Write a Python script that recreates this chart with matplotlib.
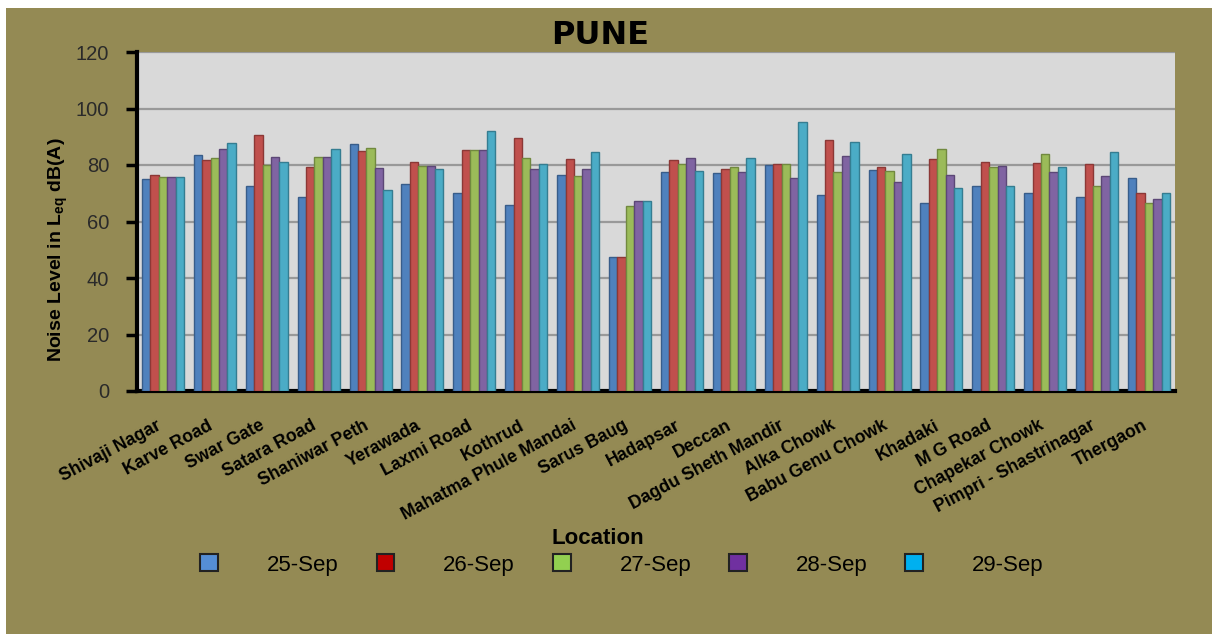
import numpy as np
import matplotlib.pyplot as plt
import matplotlib.transforms as mtransforms
from matplotlib.patches import Patch, Rectangle

plt.rcParams['font.family'] = ['Liberation Sans', 'DejaVu Sans']
plt.rcParams['mathtext.fontset'] = 'custom'
plt.rcParams['mathtext.rm'] = 'Liberation Sans:bold'
plt.rcParams['mathtext.bf'] = 'Liberation Sans:bold'
plt.rcParams['mathtext.default'] = 'bf'

locations = ['Shivaji Nagar', 'Karve Road', 'Swar Gate', 'Satara Road', 'Shaniwar Peth',
             'Yerawada', 'Laxmi Road', 'Kothrud', 'Mahatma Phule Mandai', 'Sarus Baug',
             'Hadapsar', 'Deccan', 'Dagdu Sheth Mandir', 'Alka Chowk', 'Babu Genu Chowk',
             'Khadaki', 'M G Road', 'Chapekar Chowk', 'Pimpri - Shastrinagar', 'Thergaon']

days = ['25-Sep', '26-Sep', '27-Sep', '28-Sep', '29-Sep']

sep25 = [74.9, 83.4, 72.5, 68.8, 87.5, 73.2, 70.1, 65.8, 76.4, 47.4,
         77.6, 77.1, 79.9, 69.5, 78.4, 66.7, 72.5, 70.1, 68.8, 75.3]
sep26 = [76.6, 81.6, 90.6, 79.3, 84.8, 81.1, 85.2, 89.4, 82.0, 47.4,
         81.6, 78.7, 80.4, 88.8, 79.3, 82.0, 81.1, 80.7, 80.4, 70.1]
sep27 = [75.9, 82.4, 80.0, 82.7, 86.1, 79.6, 85.4, 82.4, 76.0, 65.4,
         80.4, 79.2, 80.4, 77.5, 78.0, 85.8, 79.2, 83.8, 72.5, 66.7]
sep28 = [75.9, 85.5, 82.7, 82.7, 78.9, 79.6, 85.4, 78.7, 78.7, 67.1,
         82.4, 77.5, 75.3, 83.1, 73.9, 76.4, 79.6, 77.5, 76.0, 67.9]
sep29 = [75.9, 87.9, 81.1, 85.8, 71.3, 78.6, 92.1, 80.4, 84.5, 67.1,
         78.0, 82.4, 95.2, 88.1, 83.8, 71.9, 72.5, 79.2, 84.7, 70.1]

series = [sep25, sep26, sep27, sep28, sep29]
bar_colors = ['#4F81BD', '#C0504D', '#9BBB59', '#8064A2', '#4BACC6']
edge_colors = ['#385D8A', '#8C3836', '#71893F', '#5C4776', '#357D91']
legend_colors = ['#558ED5', '#C00000', '#92D050', '#7030A0', '#00B0F0']

olive = '#948A54'

fig = plt.figure(figsize=(12.12, 6.34), dpi=100)
fig.patch.set_facecolor(olive)
# white strip on top and left like the cropped screenshot
fig.patches.append(Rectangle((0, 1 - 8 / 634), 1, 8 / 634, transform=fig.transFigure,
                             facecolor='white', edgecolor='none', zorder=0))
fig.patches.append(Rectangle((0, 0), 6 / 1212, 1, transform=fig.transFigure,
                             facecolor='white', edgecolor='none', zorder=0))

ax = fig.add_axes([137 / 1212, 1 - 391 / 634, (1175 - 137) / 1212, (391 - 52) / 634])
ax.set_facecolor('#D9D9D9')

x = np.arange(len(locations))
w = 0.162
for i, vals in enumerate(series):
    ax.bar(x + (i - 2) * w, vals, w, color=bar_colors[i], edgecolor=edge_colors[i],
           linewidth=1.0, zorder=3)

ax.set_xlim(-0.5, len(locations) - 0.5)
ax.set_ylim(0, 120)
ax.set_yticks(range(0, 121, 20))
ax.yaxis.grid(True, color='#999999', linewidth=1.6, zorder=1)
ax.set_axisbelow(True)

for s in ['top', 'right']:
    ax.spines[s].set_visible(False)
ax.spines['left'].set_linewidth(3)
ax.spines['bottom'].set_linewidth(3)
ax.tick_params(axis='y', direction='out', length=8, width=2.5, labelsize=14.5,
               labelcolor='#2a2a2a', pad=12)
ax.tick_params(axis='x', length=0, pad=4)

ax.set_xticks(x)
ax.set_xticklabels(locations, rotation=28, ha='right', rotation_mode='anchor',
                   fontsize=12.7, fontweight='bold', va='center')
off = mtransforms.ScaledTranslation(-3 / 100, -28 / 100, fig.dpi_scale_trans)
for lab in ax.get_xticklabels():
    lab.set_transform(lab.get_transform() + off)

fig.text(600 / 1212, 1 - 35 / 634, 'PUNE', ha='center', va='center',
         fontsize=23, fontweight='bold', family=['DejaVu Sans'])
fig.text(58 / 1212, 1 - 250 / 634, r'Noise Level in L$_{eq}$ dB(A)', rotation=90,
         ha='center', va='center', fontsize=14, fontweight='bold')
fig.text(598 / 1212, 1 - 539 / 634, 'Location', ha='center', va='center',
         fontsize=16, fontweight='bold')

handles = [Patch(facecolor=c, edgecolor='#222222', linewidth=1.5) for c in legend_colors]
fig.legend(handles, days, loc='center', bbox_to_anchor=(622 / 1212, 1 - 565 / 634),
           ncol=5, frameon=False, fontsize=16, handlelength=0.8, handleheight=0.8,
           handletextpad=2.2, columnspacing=1.7)

fig.savefig('out.png', dpi=100, facecolor=fig.get_facecolor())
